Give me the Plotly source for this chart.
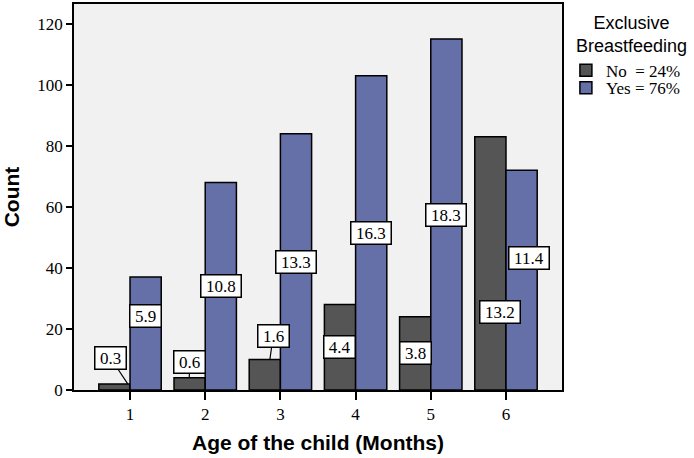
import plotly.graph_objects as go

# ---- data ----
months = [1, 2, 3, 4, 5, 6]
tick_labels = ["1", "2", "3", "4", "5", "6"]
no_counts = [2, 4, 10, 28, 24, 83]
yes_counts = [37, 68, 84, 103, 115, 72]
series_names = ["No", "Yes"]
legend_title = "Exclusive<br>Breastfeeding"
x_title = "Age of the child (Months)"
y_title = "Count"

total = sum(no_counts) + sum(yes_counts)
no_pct = [round(v / total * 100, 1) for v in no_counts]
yes_pct = [round(v / total * 100, 1) for v in yes_counts]
no_share = round(sum(no_counts) / total * 100)
yes_share = round(sum(yes_counts) / total * 100)

dark = "#555555"
blue = "#6670a8"
serif = "Liberation Serif, Times New Roman, serif"
sans = "Liberation Sans, Arial, sans-serif"

half = 0.2075  # half offset of each bar within the group
LBL_FONT = 17


def box_width(t):
    em = sum(0.25 if c == "." else 0.5 for c in t)
    return em * LBL_FONT + 8


fig = go.Figure()
fig.add_trace(go.Bar(x=months, y=no_counts, name=f"{series_names[0]}  = {no_share}%",
                     legend="legend",
                     marker=dict(color=dark, line=dict(color="black", width=1.5))))
fig.add_trace(go.Bar(x=months, y=yes_counts, name=f"{series_names[1]} = {yes_share}%",
                     legend="legend2",
                     marker=dict(color=blue, line=dict(color="black", width=1.5))))

# label placement: default centre of bar; a few were moved in the original
no_label_shift = {  # index: (dx, y, head_dx) for labels with leader lines
    0: (-0.257, 10.4, -0.03),
    1: (-0.203, 9.2, -0.213),
    2: (-0.096, 17.7, -0.14),
}
no_label_move = {5: (-0.08, 25.5)}
yes_label_move = {0: (0.2075, 24.2), 5: (0.31, 43.3)}


def box(t):
    return dict(text=t, bgcolor="white", bordercolor="black", borderwidth=1.5,
                borderpad=0.5, width=box_width(t), height=20, align="center",
                font=dict(family=serif, size=LBL_FONT, color="black"))


for i, m in enumerate(months):
    txt = f"{no_pct[i]:.1f}"
    if i in no_label_shift:
        dx, yy, hdx = no_label_shift[i]
        fig.add_annotation(x=m + hdx, y=no_counts[i], ax=m + dx, ay=yy,
                           xref="x", yref="y", axref="x", ayref="y",
                           showarrow=True, arrowhead=0,
                           arrowwidth=1.2, arrowcolor="black", **box(txt))
    else:
        dx, yy = no_label_move.get(i, (-half, no_counts[i] / 2))
        fig.add_annotation(x=m + dx, y=yy, xref="x", yref="y",
                           showarrow=False, **box(txt))
    dx, yy = yes_label_move.get(i, (half, yes_counts[i] / 2))
    fig.add_annotation(x=m + dx, y=yy, xref="x", yref="y",
                       showarrow=False, **box(f"{yes_pct[i]:.1f}"))

# legend title, centred over the legend
fig.add_annotation(x=1.1414, y=0.9205, xref="paper", yref="paper",
                   xanchor="center", yanchor="middle", showarrow=False,
                   text=legend_title, align="center",
                   font=dict(family=sans, size=18, color="black"))

leg_common = dict(x=1.008, xanchor="left", yanchor="middle",
                  font=dict(family=serif, size=17, color="black"),
                  bgcolor="rgba(0,0,0,0)", itemwidth=30)

fig.update_layout(
    width=694, height=458,
    margin=dict(l=74, r=132, t=2, b=68),
    paper_bgcolor="white",
    plot_bgcolor="#f1f1f1",
    barmode="group", bargap=0.17, bargroupgap=0,
    showlegend=True,
    legend=dict(y=0.8275, **leg_common),
    legend2=dict(y=0.7821, **leg_common),
    xaxis=dict(range=[0.255, 6.745], tickmode="array", tickvals=months,
               ticktext=tick_labels, ticks="outside", ticklen=8, tickwidth=2,
               tickcolor="black", showgrid=False, zeroline=False,
               showline=True, linecolor="black", linewidth=1.5, mirror=True,
               tickfont=dict(family=serif, size=17, color="black"),
               title=dict(text=x_title, standoff=12,
                          font=dict(family=sans, size=21, color="black", weight="bold"))),
    yaxis=dict(range=[0, 126.5], tickvals=[0, 20, 40, 60, 80, 100, 120],
               ticks="outside", ticklen=6, tickwidth=2, tickcolor="black",
               showgrid=False, zeroline=False, showline=True, linecolor="black",
               linewidth=1.5, mirror=True,
               tickfont=dict(family=serif, size=17, color="black"),
               title=dict(text=y_title, standoff=14,
                          font=dict(family=sans, size=21, color="black", weight="bold"))),
)

fig.write_html("out.html", config={"displayModeBar": False},
               post_script="document.body.style.margin='0';")
